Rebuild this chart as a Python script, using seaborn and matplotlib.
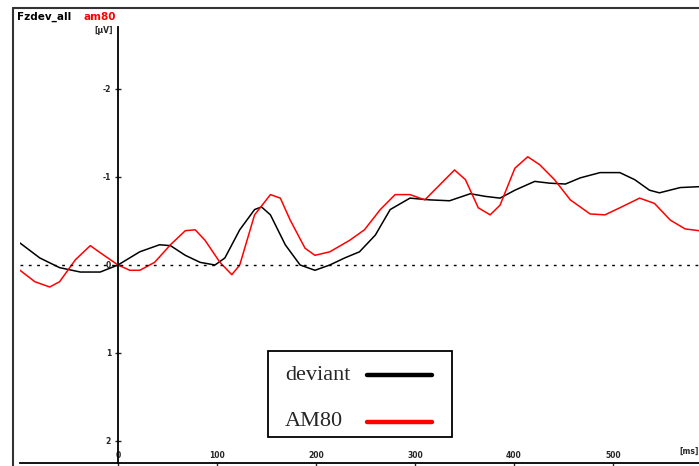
import seaborn as sns
import matplotlib.pyplot as plt
import pandas as pd
from matplotlib.lines import Line2D
from matplotlib.patches import Rectangle

# time in ms, amplitude in microvolts (negative is plotted up)
deviant_ms = [-99, -79, -59, -38, -18, 0, 22, 42, 53, 68, 83, 98, 108, 123, 138, 145,
              154, 169, 184, 199, 214, 229, 244, 260, 275, 295, 315, 335, 356, 371, 386,
              401, 421, 436, 452, 467, 487, 507, 522, 537, 547, 568, 587]
deviant_uv = [-0.25, -0.08, 0.03, 0.08, 0.08, 0.0, -0.15, -0.23, -0.22, -0.11, -0.03, 0.0,
              -0.08, -0.40, -0.63, -0.66, -0.57, -0.23, 0.0, 0.06, 0.0, -0.08, -0.15, -0.34,
              -0.63, -0.76, -0.74, -0.73, -0.81, -0.78, -0.76, -0.85, -0.95, -0.93, -0.92,
              -0.99, -1.05, -1.05, -0.97, -0.85, -0.82, -0.88, -0.89]

am80_ms = [-99, -84, -69, -59, -43, -28, -18, 0, 12, 22, 37, 53, 68, 78, 88, 103, 115, 123,
           138, 154, 164, 174, 189, 199, 214, 234, 249, 265, 280, 295, 310, 325, 340, 351,
           364, 376, 386, 401, 414, 426, 441, 457, 477, 492, 507, 527, 542, 558, 573, 587]
am80_uv = [0.06, 0.19, 0.25, 0.19, -0.06, -0.22, -0.14, 0.0, 0.06, 0.06, -0.03, -0.23,
           -0.39, -0.40, -0.28, -0.03, 0.11, 0.0, -0.57, -0.80, -0.76, -0.51, -0.19, -0.11,
           -0.15, -0.28, -0.40, -0.63, -0.80, -0.80, -0.74, -0.91, -1.08, -0.97, -0.65,
           -0.57, -0.68, -1.10, -1.23, -1.14, -0.97, -0.74, -0.58, -0.57, -0.65, -0.76,
           -0.70, -0.51, -0.41, -0.39]

x_ticks = [0, 100, 200, 300, 400, 500]
y_ticks = [-2, -1, 0, 1, 2]
series_names = ["deviant", "AM80"]
series_colors = ["black", "red"]

df_dev = pd.DataFrame({"ms": deviant_ms, "uV": deviant_uv})
df_am = pd.DataFrame({"ms": am80_ms, "uV": am80_uv})

sns.set_theme(style="white")
fig = plt.figure(figsize=(6.99, 4.66), dpi=100)
W, H = 699, 466
ax = fig.add_axes([20 / W, 3 / H, 1 - 20 / W, 451 / H])

sns.lineplot(data=df_dev, x="ms", y="uV", color=series_colors[0], lw=1.1, ax=ax,
             estimator=None)
sns.lineplot(data=df_am, x="ms", y="uV", color=series_colors[1], lw=1.1, ax=ax,
             estimator=None)

ax.axhline(0, color="black", lw=1.0, ls=(0, (2, 4)))

ax.set_xlim(-99, 587)
ax.set_ylim(2.25, -2.875)
ax.set_xlabel("")
ax.set_ylabel("")

for s in ["top", "right"]:
    ax.spines[s].set_visible(False)
ax.spines["left"].set_position(("data", 0))
ax.spines["left"].set_bounds(2.25, -2.7)
ax.spines["bottom"].set_color("black")
ax.spines["left"].set_color("black")
ax.spines["bottom"].set_linewidth(1.3)
ax.spines["left"].set_linewidth(1.3)

ax.set_xticks(x_ticks)
ax.set_xticklabels([str(t) for t in x_ticks])
ax.set_yticks(y_ticks)
ax.set_yticklabels([str(t) for t in y_ticks])
ax.tick_params(axis="x", direction="out", length=3, width=1, pad=-12,
               labelsize=5.5, bottom=True)
ax.tick_params(axis="y", direction="inout", length=4, width=1, pad=3,
               labelsize=5.5, left=True)
for lab in ax.get_xticklabels() + ax.get_yticklabels():
    lab.set_fontweight("bold")

ax.text(-5, -2.66, "[µV]", fontsize=5.5, fontweight="bold", ha="right", va="center")
ax.text(587, 2.12, "[ms]", fontsize=5.5, fontweight="bold", ha="right", va="center")

# outer frame
fig.add_artist(Line2D([13 / W, 13 / W], [0, 1 - 8 / H], color="#333333", lw=1.5,
                      transform=fig.transFigure))
fig.add_artist(Line2D([13 / W, 1], [1 - 8 / H, 1 - 8 / H], color="#333333", lw=1.5,
                      transform=fig.transFigure))

fig.text(17 / W, 1 - 17 / H, "Fzdev_all", fontsize=7.5, fontweight="bold",
         color="black", va="center")
fig.text(83 / W, 1 - 17 / H, "am80", fontsize=7.5, fontweight="bold",
         color="red", va="center")

# legend box, text on the left, sample line on the right
fig.add_artist(Rectangle((268 / W, 1 - 437 / H), 184 / W, 86 / H, fill=True,
                         facecolor="white", edgecolor="black", lw=1.3,
                         transform=fig.transFigure, zorder=5))
for i, (name, col) in enumerate(zip(series_names, series_colors)):
    yy = 1 - (375 + 47 * i) / H
    fig.text(285 / W, yy, name, family="Liberation Serif", fontsize=16,
             va="center", ha="left", zorder=6)
    fig.add_artist(Line2D([367 / W, 432 / W], [yy, yy], color=col, lw=3.2,
                          transform=fig.transFigure, zorder=6))

fig.savefig("out.png", dpi=100)
